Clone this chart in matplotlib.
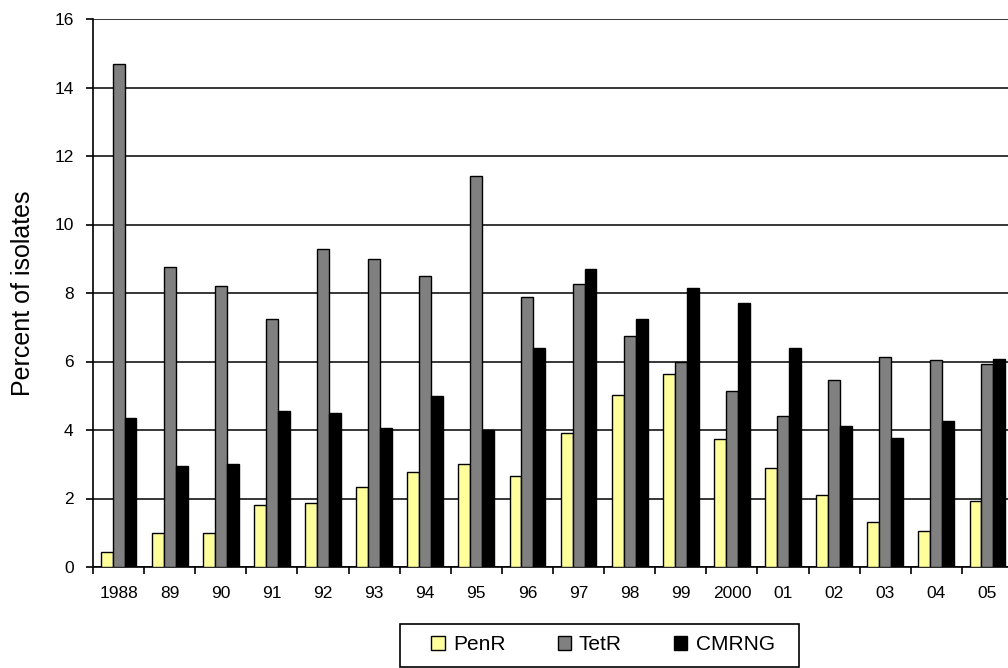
import matplotlib
matplotlib.use("Agg")
import matplotlib.pyplot as plt
from matplotlib.patches import Rectangle
import numpy as np

years = ["1988", "89", "90", "91", "92", "93", "94", "95", "96", "97",
         "98", "99", "2000", "01", "02", "03", "04", "05"]
penr = [0.45, 1.0, 1.0, 1.81, 1.86, 2.35, 2.77, 3.02, 2.65, 3.91,
        5.03, 5.63, 3.75, 2.89, 2.09, 1.31, 1.06, 1.92]
tetr = [14.7, 8.75, 8.2, 7.24, 9.28, 8.98, 8.5, 11.43, 7.89, 8.26,
        6.73, 6.0, 5.15, 4.42, 5.45, 6.12, 6.04, 5.93]
cmrng = [4.36, 2.96, 3.02, 4.55, 4.5, 4.06, 4.98, 4.0, 6.38, 8.69,
         7.24, 8.14, 7.72, 6.38, 4.12, 3.77, 4.25, 6.06]
series = ["PenR", "TetR", "CMRNG"]
colors = ["#FFFF99", "#808080", "#000000"]

plt.rcParams['font.family'] = ['Liberation Sans', 'DejaVu Sans']

W, H = 1008, 668
fig = plt.figure(figsize=(W / 100, H / 100), dpi=100)
left, right, top, bottom = 93, 1013, 19, 567
ax = fig.add_axes([left / W, 1 - bottom / H, (right - left) / W, (bottom - top) / H])

x = np.arange(len(years))
bw = 0.234
for i, (vals, c, name) in enumerate(zip([penr, tetr, cmrng], colors, series)):
    ax.bar(x + (i - 1) * bw, vals, bw, color=c, edgecolor="black", linewidth=1,
           label=name, zorder=3)

ax.set_xlim(-0.5, len(years) - 0.5)
ax.set_ylim(0, 16)
ax.set_yticks(range(0, 17, 2))
ax.yaxis.grid(True, color="black", linewidth=1.1, zorder=0)
ax.set_axisbelow(True)

ax.set_xticks(x)
ax.set_xticklabels(years, fontsize=12.5)
ax.tick_params(axis="x", which="major", length=0, pad=14)
ax.set_xticks(np.arange(-0.5, len(years), 1), minor=True)
ax.tick_params(axis="x", which="minor", length=5, width=1.2, direction="out")
ax.tick_params(axis="y", labelsize=12.5, length=5, width=1.2, direction="out", pad=9)

for s in ["top", "right"]:
    ax.spines[s].set_visible(False)
ax.spines["left"].set_linewidth(1.2)
ax.spines["bottom"].set_linewidth(1.2)

ax.set_ylabel("Percent of isolates", fontsize=18, labelpad=14)

leg = fig.legend(loc="center", bbox_to_anchor=(603 / W, 1 - 645 / H), ncol=3,
                 fontsize=15, frameon=False,
                 handlelength=0.63, handleheight=0.63, columnspacing=2.5,
                 handletextpad=0.4, borderpad=0.2)
for h in leg.legend_handles:
    h.set_linewidth(1)
fig.patches.append(Rectangle((400 / W, 1 - 667 / H), 399 / W, 43 / H,
                             transform=fig.transFigure, fill=False,
                             edgecolor="black", linewidth=1.2))

fig.savefig("out.png", dpi=100)
